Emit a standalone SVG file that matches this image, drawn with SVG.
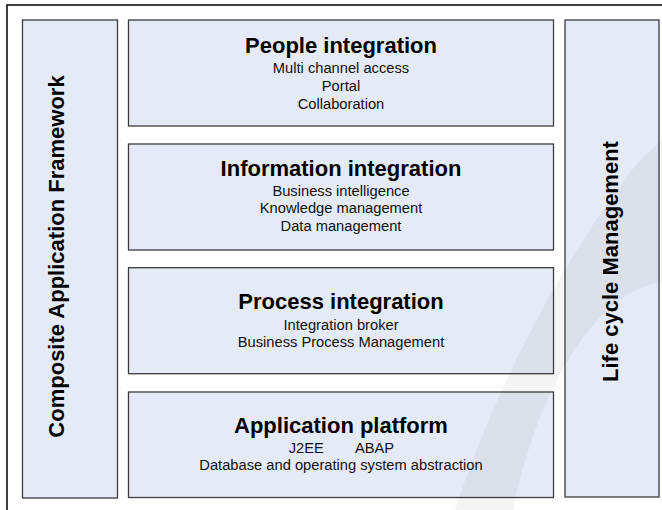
<svg xmlns="http://www.w3.org/2000/svg" width="662" height="510" viewBox="0 0 662 510">
<style>
.box{fill:#E5EBF6;stroke:#3c3c3c;stroke-width:1.3}
.t{font-family:"Liberation Sans",Arial,sans-serif;font-weight:bold;font-size:22px;fill:#000;text-anchor:middle}
.s{font-family:"Liberation Sans",Arial,sans-serif;font-size:14.7px;fill:#111;text-anchor:middle}
</style>
<rect width="662" height="510" fill="#fff"/>
<path d="M7,510 L7,5 L662,5" fill="none" stroke="#000" stroke-width="1.5"/>
<g id="composite-application-framework">
<rect class="box" x="22.5" y="20" width="95" height="478"/>
<text class="t" transform="translate(64,256.5) rotate(-90)">Composite Application Framework</text>
</g>
<g id="life-cycle-management">
<rect class="box" x="565" y="20" width="94" height="477"/>
<text class="t" transform="translate(618,261.5) rotate(-90)">Life cycle Management</text>
</g>
<g id="people-integration">
<rect class="box" x="128.5" y="20" width="425" height="106"/>
<text class="t" x="341" y="53">People integration</text>
<text class="s" x="341" y="73.3">Multi channel access</text>
<text class="s" x="341" y="91">Portal</text>
<text class="s" x="341" y="108.5">Collaboration</text>
</g>
<g id="information-integration">
<rect class="box" x="128.5" y="144" width="425" height="106"/>
<text class="t" x="341" y="175.5">Information integration</text>
<text class="s" x="341" y="195.5">Business intelligence</text>
<text class="s" x="341" y="213.2">Knowledge management</text>
<text class="s" x="341" y="230.8">Data management</text>
</g>
<g id="process-integration">
<rect class="box" x="128.5" y="267.7" width="425" height="106"/>
<text class="t" x="341" y="309.3">Process integration</text>
<text class="s" x="341" y="330">Integration broker</text>
<text class="s" x="341" y="347.3">Business Process Management</text>
</g>
<g id="application-platform">
<rect class="box" x="128.5" y="392" width="425" height="105.5"/>
<text class="t" x="341" y="433.3">Application platform</text>
<text class="s" x="306.2" y="452.7">J2EE</text>
<text class="s" x="374.5" y="452.7">ABAP</text>
<text class="s" x="341" y="470">Database and operating system abstraction</text>
</g>
<g id="connectors"/>
<path id="watermark" d="M455,510 C490,400 560,260 640,160 L662,140 L662,282 C600,290 540,380 513,510 Z" fill="#000" opacity="0.045"/>
</svg>
